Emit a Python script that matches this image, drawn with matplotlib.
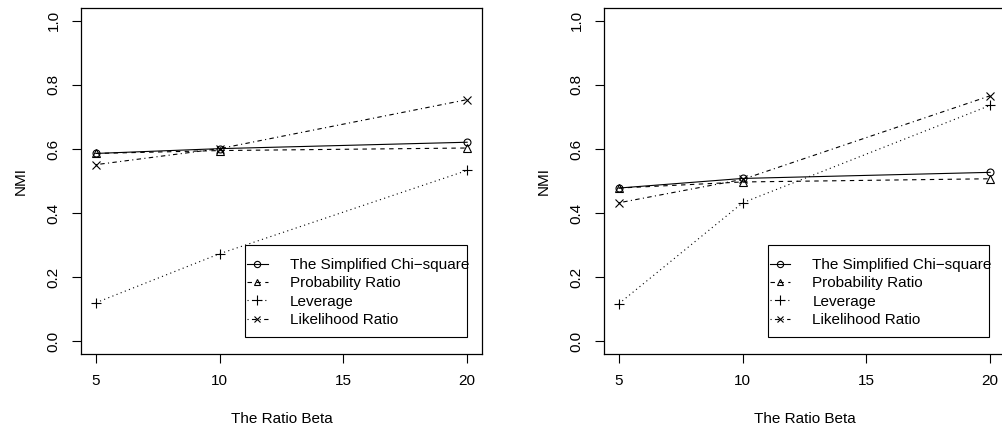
import numpy as np
import matplotlib.pyplot as plt
from matplotlib.patches import Rectangle

plt.rcParams['font.family'] = ['Liberation Sans', 'DejaVu Sans']

beta = [5, 10, 20]
labels = ['The Simplified Chi\u2212square', 'Probability Ratio', 'Leverage', 'Likelihood Ratio']

# left panel
chi_a = [0.586, 0.601, 0.621]
prob_a = [0.586, 0.595, 0.603]
lev_a = [0.120, 0.273, 0.533]
lik_a = [0.551, 0.601, 0.754]

# right panel
chi_b = [0.478, 0.508, 0.527]
prob_b = [0.478, 0.497, 0.507]
lev_b = [0.117, 0.432, 0.736]
lik_b = [0.432, 0.505, 0.766]

styles = [
    dict(linestyle='-', marker='o', markersize=5),
    dict(linestyle=(0, (4, 4)), marker='^', markersize=5.5),
    dict(linestyle=(0, (1, 3)), marker='+', markersize=7.5),
    dict(linestyle=(0, (1, 3, 4, 3)), marker='x', markersize=5.5),
]

fig = plt.figure(figsize=(10.03, 4.32), dpi=100)
ax1 = fig.add_axes([81 / 1003, 78 / 432, 401 / 1003, 346 / 432])
ax2 = fig.add_axes([604 / 1003, 78 / 432, 401 / 1003, 346 / 432])


def draw(ax, series, box_x0, box_x1):
    for ys, st, lab in zip(series, styles, labels):
        ax.plot(beta, ys, color='black', linewidth=0.8,
                markerfacecolor='none', markeredgewidth=0.8, label=lab, **st)
    ax.set_xlim(4.4, 20.6)
    ax.set_ylim(-0.04, 1.04)
    ax.set_xticks([5, 10, 15, 20])
    ax.set_yticks([0.0, 0.2, 0.4, 0.6, 0.8, 1.0])
    ax.set_yticklabels(['0.0', '0.2', '0.4', '0.6', '0.8', '1.0'],
                       rotation=90, va='center')
    ax.tick_params(direction='out', length=6.5, width=0.8, labelsize=11, pad=8)
    for s in ax.spines.values():
        s.set_linewidth(0.9)
    ax.set_xlabel('The Ratio Beta', fontsize=11, labelpad=17)
    ax.set_ylabel('NMI', fontsize=11, labelpad=14)

    # legend entries without frame, frame drawn separately (R-style box)
    leg = ax.legend(loc='upper left', bbox_to_anchor=(box_x0 + 0.005, 0.277),
                    fontsize=11, frameon=False, handlelength=1.35,
                    handletextpad=1.45, labelspacing=0.28, borderpad=0,
                    borderaxespad=0, markerscale=0.9)
    ax.add_patch(Rectangle((box_x0, 0.05), box_x1 - box_x0, 0.265,
                           transform=ax.transAxes, fill=False,
                           edgecolor='black', linewidth=0.8, zorder=5))


draw(ax1, [chi_a, prob_a, lev_a, lik_a], 0.409, 0.9626)
draw(ax2, [chi_b, prob_b, lev_b, lik_b], 0.408, 0.961)

fig.savefig('out.png', dpi=100)
